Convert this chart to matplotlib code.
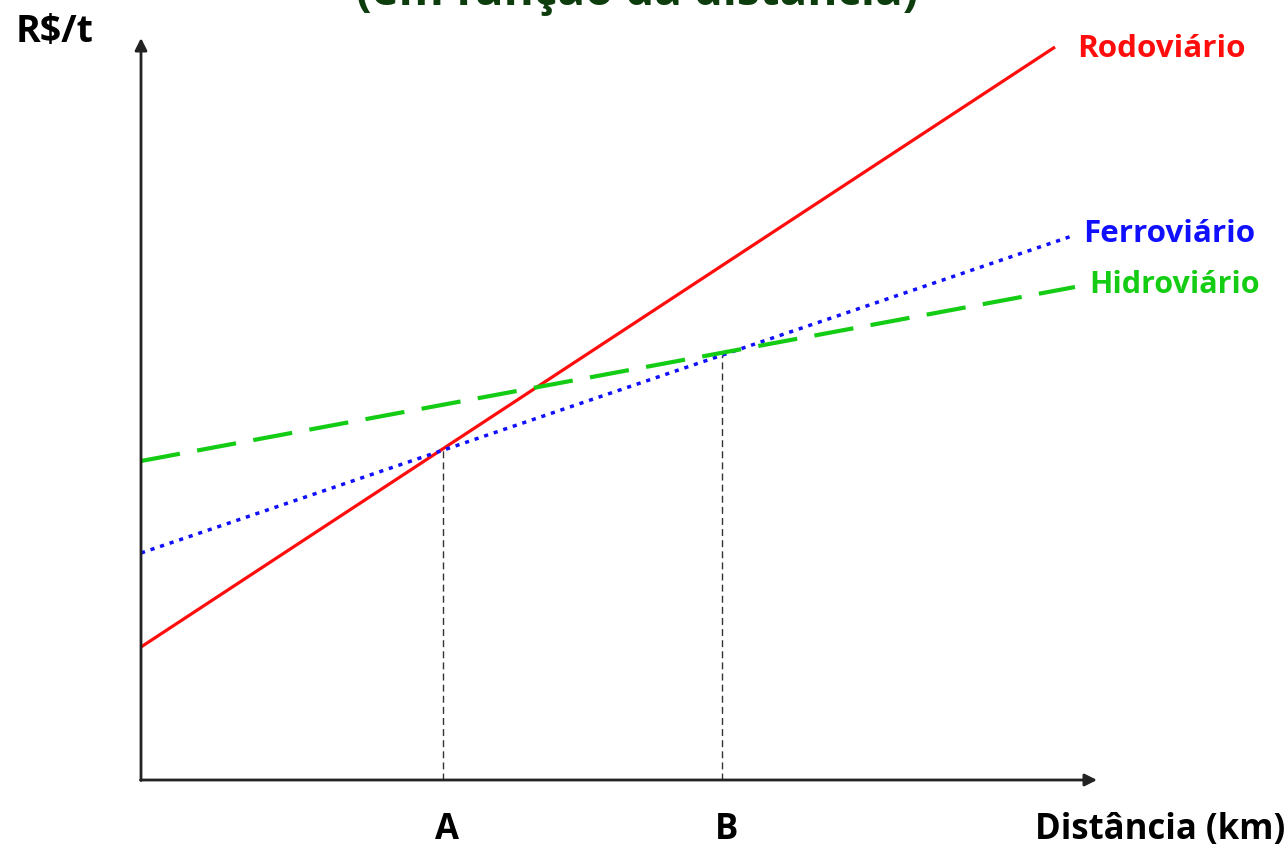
import matplotlib
matplotlib.use("Agg")
import matplotlib.pyplot as plt

# Data (arbitrary units)
modes = ["Rodoviário", "Ferroviário", "Hidroviário"]
x_start = [0.0, 0.0, 0.0]
x_end = [9.14, 9.34, 9.34]
cost_start = [1.33, 2.27, 3.19]
cost_end = [7.33, 5.45, 4.93]
colors = ["#ff0d0d", "#1010ff", "#14cc14"]
point_labels = ["A", "B"]
point_x = [3.02, 5.81]

plt.rcParams['font.family'] = ['Open Sans', 'DejaVu Sans']

W, H = 1287, 849
fig = plt.figure(figsize=(W / 100, H / 100), dpi=100)
ax = fig.add_axes([0, 0, 1, 1])
ax.set_xlim(-1.41, (W - 141) / 100)
ax.set_ylim(-(H - 780) / 100, 7.80)
ax.axis("off")


def fpos(px, py):
    return px / W, 1 - py / H


styles = [dict(ls="-", lw=2.3),
          dict(ls=(0, (1.2, 1.7)), lw=2.5),
          dict(ls=(0, (9.5, 4.2)), lw=3.0)]
label_px = [(1077, 57, 22.6), (1083, 242, 22.6), (1089, 293, 22.0)]
for i, m in enumerate(modes):
    ax.plot([x_start[i], x_end[i]], [cost_start[i], cost_end[i]],
            color=colors[i], solid_capstyle="butt", **styles[i], zorder=3)
    lx, ly, fs = label_px[i]
    fx, fy = fpos(lx, ly)
    fig.text(fx, fy, m, color=colors[i], fontsize=fs, fontweight="bold",
             va="baseline", ha="left")


def line_val(i, x):
    return cost_start[i] + (cost_end[i] - cost_start[i]) * (x - x_start[i]) / (x_end[i] - x_start[i])


# vertical dashed guide lines
guide_mode = [0, 1]
label_cx = [447, 727]
for px, lbl, gm, cx in zip(point_x, point_labels, guide_mode, label_cx):
    ax.plot([px, px], [0, line_val(gm, px)], color="#333333", lw=1.0,
            ls=(0, (5, 3)), zorder=2)
    fx, fy = fpos(cx, 848)
    fig.text(fx, fy, lbl, fontsize=25, fontweight="bold",
             ha="center", va="bottom", color="black")

# axes with arrows
ax.annotate("", xy=(9.56, 0), xytext=(-0.005, 0),
            arrowprops=dict(arrowstyle="-|>", color="#222222", lw=2.0,
                            mutation_scale=18, shrinkA=0, shrinkB=0))
ax.annotate("", xy=(0, 7.42), xytext=(0, -0.005),
            arrowprops=dict(arrowstyle="-|>", color="#222222", lw=2.0,
                            mutation_scale=18, shrinkA=0, shrinkB=0))

fx, fy = fpos(16, 42)
fig.text(fx, fy, "R$/t", fontsize=27, fontweight="bold", ha="left",
         va="baseline", color="black")
fx, fy = fpos(1285, 848)
fig.text(fx, fy, "Distância (km)", fontsize=25, fontweight="bold",
         ha="right", va="bottom", color="black")

# title, cut off at the top of the image
fx, fy = fpos(637, 5)
fig.text(fx, fy, "(em função da distância)", fontsize=33,
         fontweight="bold", color="#0d3d0d", ha="center", va="baseline")

fig.savefig("out.png", dpi=100, facecolor="white")
